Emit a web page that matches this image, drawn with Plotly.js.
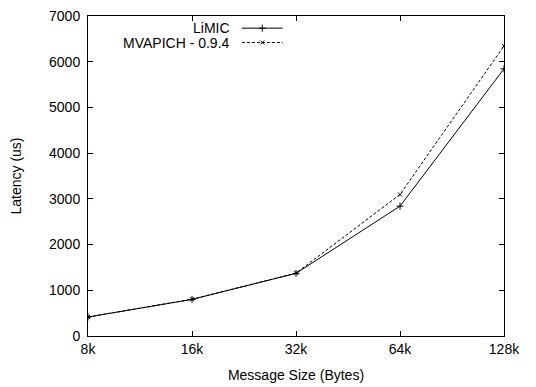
<!DOCTYPE html>
<html><head><meta charset="utf-8">
<script src="https://cdn.plot.ly/plotly-3.0.1.min.js"></script>
<style>html,body{margin:0;padding:0;background:#fff}#c{width:536px;height:387px}</style>
</head><body><div id="c"></div>
<script>
const sizes = ['8k','16k','32k','64k','128k'];
const limic = [415, 800, 1370, 2840, 5845];
const mvapich = [415, 805, 1375, 3095, 6345];
const seriesNames = ['LiMIC', 'MVAPICH - 0.9.4'];
const yTicks = [0,1000,2000,3000,4000,5000,6000,7000];

const font = {family:'Liberation Sans, Arial, sans-serif', size:14, color:'#000'};
const traces = [
  {x:sizes, y:limic, type:'scatter', mode:'lines+markers', name:seriesNames[0],
   line:{color:'#000', width:1}, marker:{symbol:'cross-thin', size:5, color:'#000', line:{color:'#000', width:1}}},
  {x:sizes, y:mvapich, type:'scatter', mode:'lines+markers', name:seriesNames[1],
   line:{color:'#000', width:1, dash:'3px,2px'}, marker:{symbol:'x-thin', size:4, color:'#000', line:{color:'#000', width:1}}},
  // legend key samples
  {x:[0.37,0.468], y:[0.962,0.962], xaxis:'x2', yaxis:'y2', mode:'lines', line:{color:'#000', width:1}, hoverinfo:'skip'},
  {x:[0.419], y:[0.962], xaxis:'x2', yaxis:'y2', mode:'markers', marker:{symbol:'cross-thin', size:5, line:{color:'#000', width:1}}, hoverinfo:'skip'},
  {x:[0.37,0.468], y:[0.917,0.917], xaxis:'x2', yaxis:'y2', mode:'lines', line:{color:'#000', width:1, dash:'3px,2px'}, hoverinfo:'skip'},
  {x:[0.419], y:[0.917], xaxis:'x2', yaxis:'y2', mode:'markers', marker:{symbol:'x-thin', size:4, line:{color:'#000', width:1}}, hoverinfo:'skip'}
];
const layout = {
  width:536, height:387, showlegend:false,
  margin:{l:88, r:32, t:16, b:51},
  paper_bgcolor:'#fff', plot_bgcolor:'#fff', font:font,
  xaxis:{type:'category', range:[0,4], showgrid:false, zeroline:false,
    ticks:'inside', ticklen:5, tickcolor:'#000', mirror:'allticks', showline:true, linecolor:'#000', linewidth:1,
    tickfont:font, title:{text:'Message Size (Bytes)', font:font, standoff:14}},
  yaxis:{range:[0,7000], tickvals:yTicks, showgrid:false, zeroline:false, ticklabelstandoff:4,
    ticks:'inside', ticklen:5, tickcolor:'#000', mirror:'allticks', showline:true, linecolor:'#000', linewidth:1,
    tickfont:font, title:{text:'Latency (us)', font:font, standoff:24}},
  xaxis2:{overlaying:'x', range:[0,1], visible:false},
  yaxis2:{overlaying:'y', range:[0,1], visible:false},
  annotations:[
    {xref:'paper', yref:'paper', x:0.345, y:0.962, text:seriesNames[0], showarrow:false, xanchor:'right', yanchor:'middle', font:font},
    {xref:'paper', yref:'paper', x:0.345, y:0.917, text:seriesNames[1], showarrow:false, xanchor:'right', yanchor:'middle', font:font}
  ]
};
Plotly.newPlot('c', traces, layout, {staticPlot:true, displayModeBar:false});
</script></body></html>
